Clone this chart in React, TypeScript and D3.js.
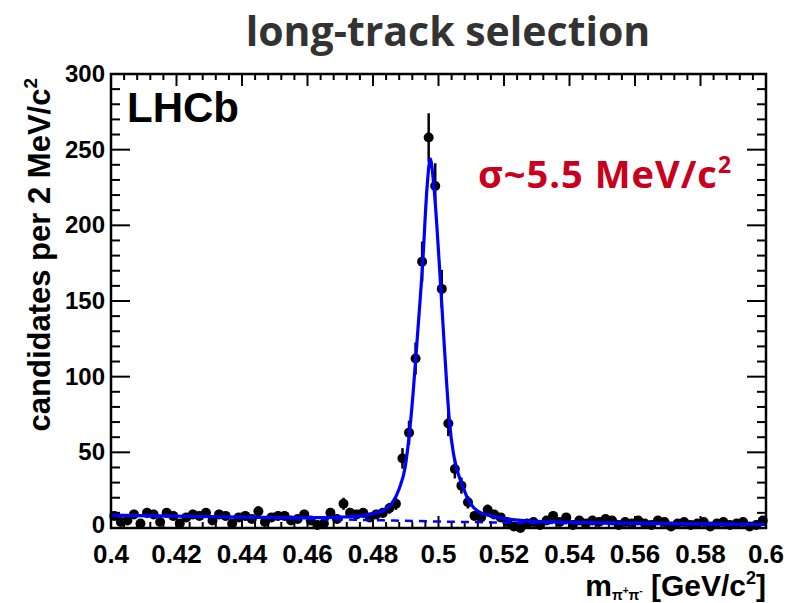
import React from "react";
import * as d3 from "d3";

// Bin centres: 2 MeV bins from 0.400 to 0.600 GeV
const binStart = 0.4;
const binWidth = 0.002;
const counts: number[] = [
  // 0.401 .. 0.487
  8, 4, 5, 9, 3, 10, 9, 4, 10, 8, 3, 7, 9, 8, 10, 5, 9, 8, 3, 7, 8, 6, 11, 4, 7, 8, 8, 5, 6, 9, 5, 2, 3, 10, 6, 16, 10, 9, 10, 7, 9, 10, 13, 16,
  // 0.489 .. 0.509
  46, 63, 112, 176, 258, 226, 158, 69, 39, 28, 17,
  // 0.511 .. 0.519
  8, 7, 12, 9, 7,
  // 0.521 .. 0.599
  4, 1, 0, 3, 4, 2, 5, 8, 4, 7, 2, 5, 3, 5, 4, 6, 5, 2, 4, 3, 5, 3, 2, 5, 4, 1, 3, 4, 2, 3, 4, 1, 3, 4, 2, 3, 4, 1, 2, 5,
];

// Fit curve (signal + background)
const fitMass = [0.4, 0.42, 0.44, 0.46, 0.47, 0.476, 0.48, 0.4835, 0.486, 0.488, 0.4898, 0.491, 0.4922, 0.4935, 0.4952, 0.4965, 0.4975, 0.4985, 0.5002, 0.5015, 0.5026, 0.5034, 0.5045, 0.5056, 0.5075, 0.509, 0.5105, 0.5121, 0.516, 0.5206, 0.528, 0.54, 0.56, 0.58, 0.6];
const fitValue = [8.5, 7.8, 7.2, 6.8, 7.2, 8.0, 9.5, 12, 17, 26, 40, 60, 88, 125, 176, 225, 244, 228, 176, 130, 92, 69, 50, 39, 27, 19, 14, 11, 8, 6, 4.5, 3.8, 3.2, 2.7, 2.3];

// Background component (dashed)
const bkgMass = [0.4, 0.44, 0.48, 0.5, 0.52, 0.56, 0.6];
const bkgValue = [8.5, 7.0, 5.2, 4.3, 3.6, 2.9, 2.3];

const xTicks = [0.4, 0.42, 0.44, 0.46, 0.48, 0.5, 0.52, 0.54, 0.56, 0.58, 0.6];
const xTickLabels = ["0.4", "0.42", "0.44", "0.46", "0.48", "0.5", "0.52", "0.54", "0.56", "0.58", "0.6"];
const yTicks = [0, 50, 100, 150, 200, 250, 300];

const W = 787;
const H = 603;
const L = 111, R = 766, T = 74, B = 528;

export default function App() {
  const x = d3.scaleLinear().domain([0.4, 0.6]).range([L, R]);
  const y = d3.scaleLinear().domain([0, 300]).range([B, T]);

  const pts = counts.map((c, i) => ({ m: binStart + binWidth * (i + 0.5), c }));
  const fitLine = d3
    .line<number>()
    .x((_, i) => x(fitMass[i]))
    .y((v) => y(v))
    .curve(d3.curveMonotoneX)(fitValue) as string;
  const bkgLine = d3
    .line<number>()
    .x((_, i) => x(bkgMass[i]))
    .y((v) => y(v))
    .curve(d3.curveMonotoneX)(bkgValue) as string;

  const xMinor = d3.range(0, 51).map((i) => 0.4 + i * 0.004);
  const yMinor = d3.range(0, 31).map((i) => i * 10);

  const axisFont = "'Liberation Sans', Arial, Helvetica, sans-serif";

  return (
    <svg width={W} height={H} style={{ position: "absolute", left: 0, top: 0, background: "#fff" }}>
      <defs>
        <clipPath id="frame">
          <rect x={L} y={T} width={R - L} height={B - T} />
        </clipPath>
      </defs>
      <rect x={0} y={0} width={W} height={H} fill="#fff" />
      {/* Title */}
      <text x={448} y={46} textAnchor="middle" fontFamily="'Open Sans', sans-serif" fontWeight={700} fontSize={41} fill="#333">
        long-track selection
      </text>

      {/* ticks: x minor/major, bottom & top */}
      {xMinor.map((m, i) => {
        const major = i % 5 === 0;
        const len = major ? 12 : 6;
        return (
          <g key={"xm" + i} stroke="#000" strokeWidth={2}>
            <line x1={x(m)} x2={x(m)} y1={B} y2={B - len} />
            <line x1={x(m)} x2={x(m)} y1={T} y2={T + len} />
          </g>
        );
      })}
      {yMinor.map((v, i) => {
        const major = i % 5 === 0;
        const len = major ? 19 : 9;
        return (
          <g key={"ym" + i} stroke="#000" strokeWidth={2}>
            <line x1={L} x2={L + len} y1={y(v)} y2={y(v)} />
            <line x1={R} x2={R - len} y1={y(v)} y2={y(v)} />
          </g>
        );
      })}

      {/* data points */}
      <g>
        {pts.map((p, i) => {
          const e = Math.sqrt(p.c);
          return (
            <g key={"p" + i}>
              {e > 0 && (
                <line x1={x(p.m)} x2={x(p.m)} y1={y(p.c + e)} y2={y(Math.max(0, p.c - e))} stroke="#000" strokeWidth={2.5} />
              )}
              <circle cx={x(p.m)} cy={y(p.c)} r={5} fill="#000" />
            </g>
          );
        })}
      </g>

      {/* fits */}
      <g clipPath="url(#frame)">
        <path d={bkgLine} fill="none" stroke="#0000ff" strokeWidth={2.5} strokeDasharray="8 6" />
        <path d={fitLine} fill="none" stroke="#0000ff" strokeWidth={3.2} />
      </g>

      {/* frame */}
      <rect x={L} y={T} width={R - L} height={B - T} fill="none" stroke="#000" strokeWidth={2.5} />

      {/* tick labels */}
      {xTicks.map((t, i) => (
        <text key={"xl" + i} x={x(t)} y={563} textAnchor="middle" fontFamily={axisFont} fontWeight={700} fontSize={26} fill="#000">
          {xTickLabels[i]}
        </text>
      ))}
      {yTicks.map((t) => (
        <text key={"yl" + t} x={105} y={y(t) + (t === 0 ? 5 : 8)} textAnchor="end" fontFamily={axisFont} fontWeight={700} fontSize={24} fill="#000">
          {t}
        </text>
      ))}

      {/* axis titles */}
      <text transform="translate(50,78) rotate(-90)" textAnchor="end" fontFamily={axisFont} fontWeight={700} fontSize={31} fill="#000">
        candidates per 2 MeV/c
        <tspan fontSize={19} dy={-13}>2</tspan>
      </text>
      <text x={766} y={596} textAnchor="end" fontFamily={axisFont} fontWeight={700} fontSize={30} fill="#000">
        m
        <tspan fontSize={14} dy={4}>π</tspan>
        <tspan fontSize={10} dy={-6}>+</tspan>
        <tspan fontSize={14} dy={6}>π</tspan>
        <tspan fontSize={10} dy={-6}>-</tspan>
        <tspan fontSize={30} dy={2}> [GeV/c</tspan>
        <tspan fontSize={18} dy={-12}>2</tspan>
        <tspan fontSize={30} dy={12}>]</tspan>
      </text>

      {/* LHCb label */}
      <text x={127} y={122} fontFamily={axisFont} fontWeight={700} fontSize={42} fill="#000">
        LHCb
      </text>

      {/* sigma annotation */}
      <text x={478} y={188} fontFamily="'Open Sans', sans-serif" fontWeight={700} fontSize={38} fill="#c8001e" letterSpacing={1}>
        σ~5.5 MeV/c
        <tspan fontSize={23} dy={-15}>2</tspan>
      </text>
    </svg>
  );
}
